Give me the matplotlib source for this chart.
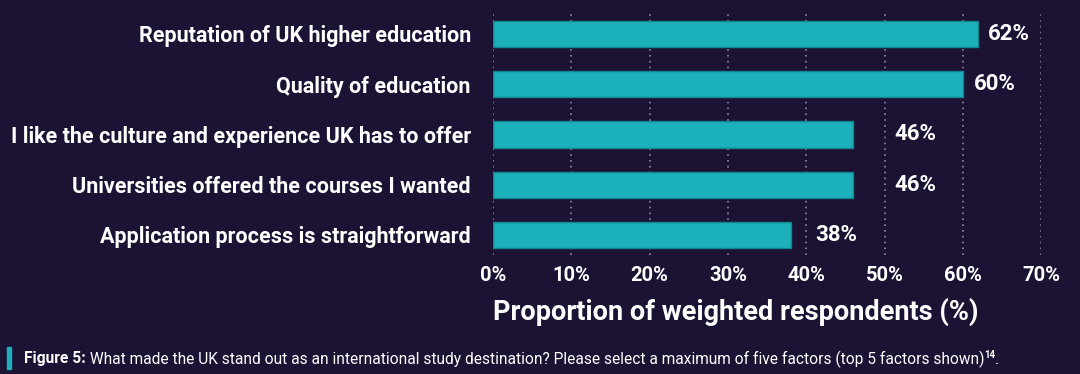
import numpy as np
from matplotlib import pyplot as plt

plt.rcParams['font.family'] = ['Roboto', 'DejaVu Sans']

# survey data
factors = ['Reputation of UK higher education',
           'Quality of education',
           'I like the culture and experience UK has to offer',
           'Universities offered the courses I wanted',
           'Application process is straightforward']
shares = [62, 60, 46, 46, 38]
ticks = [0, 10, 20, 30, 40, 50, 60, 70]

# label nudges (points) to the right of each bar end
label_pad = [7, 8, 30, 30, 18]

bg = '#1b1234'
teal = '#1bb0ba'

fig = plt.figure(figsize=(10.8, 3.74), dpi=100, facecolor=bg)
ax = fig.add_axes([0.4565, 0.318, 0.5075, 0.645], facecolor=bg)

y = np.arange(len(factors))
ax.barh(y, shares, height=0.52, color=teal, edgecolor='#12858d', linewidth=1, zorder=3)

for yi, v, pad in zip(y, shares, label_pad):
    ax.annotate(f'{v}%', (v, yi), xytext=(pad, 0), textcoords='offset points',
                va='center', ha='left', color='white', fontsize=16, fontweight='bold')

ax.set_xlim(0, 70)
ax.set_ylim(len(factors) - 0.6, -0.4)
ax.set_xticks(ticks)
ax.set_xticklabels([f'{t}%' for t in ticks])
ax.set_yticks(y)
ax.set_yticklabels(factors)
ax.tick_params(axis='both', length=0, colors='white')
ax.tick_params(axis='y', pad=16, labelsize=15.5)
ax.tick_params(axis='x', pad=8, labelsize=14.5)
for lab in ax.get_xticklabels() + ax.get_yticklabels():
    lab.set_fontweight('bold')

ax.grid(axis='x', color='#8d879e', linestyle=(0, (1, 2.5)), linewidth=1.2, zorder=0)
for s in ax.spines.values():
    s.set_visible(False)

ax.set_xlabel('Proportion of weighted respondents (%)', color='white',
              fontsize=19.5, fontweight='bold', labelpad=9, loc='left')

# caption with teal marker
fig.patches.append(plt.Rectangle((7 / 1080, 1 - 369 / 374), 4 / 1080, 22 / 374,
                                 transform=fig.transFigure, color=teal))
t1 = fig.text(24 / 1080, 1 - 359 / 374, 'Figure 5:', color='white', fontsize=11.2,
              fontweight='bold', va='center')
fig.canvas.draw()
ax.annotate(' What made the UK stand out as an international study destination? '
            'Please select a maximum of five factors (top 5 factors shown)',
            xy=(1, 0.5), xycoords=t1, va='center', ha='left', color='white', fontsize=11.2,
            annotation_clip=False)
rest = ax.texts[-1]
fig.canvas.draw()
ax.annotate('14', xy=(1, 0.75), xycoords=rest, va='center', ha='left', color='white',
            fontsize=7, fontweight='bold', annotation_clip=False)
sup = ax.texts[-1]
fig.canvas.draw()
ax.annotate('.', xy=(1, 0.5), xycoords=(sup, rest), va='center', ha='left', color='white',
            fontsize=11.2, annotation_clip=False)

fig.savefig('out.png', dpi=100, facecolor=bg)
